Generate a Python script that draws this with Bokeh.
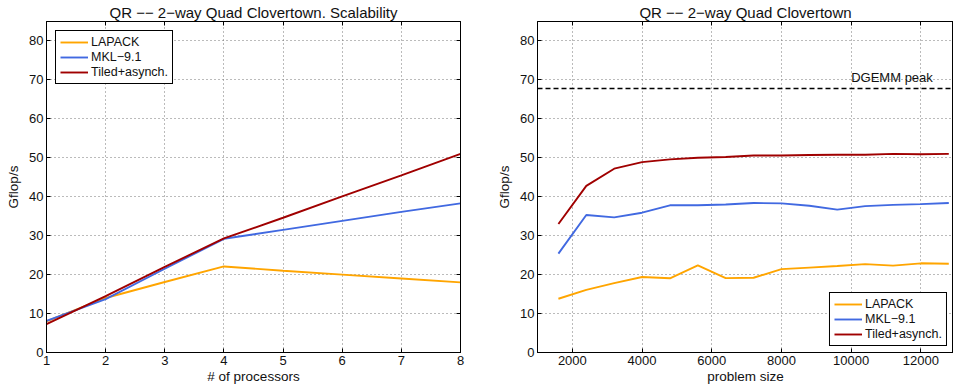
from bokeh.plotting import figure
from bokeh.layouts import row
from bokeh.models import Range1d, FixedTicker, Legend, LegendItem, Span, Label, LinearAxis
from bokeh.embed import file_html
from bokeh.resources import INLINE

# ---- Left chart: scalability ----
procs = [1, 2, 3, 4, 5, 6, 7, 8]
lapack_scal = [8.0, 14.0, 18.1, 22.1, 21.0, 20.0, 19.0, 18.0]
mkl_scal = [8.1, 13.7, 21.5, 29.2, 31.5, 33.8, 36.1, 38.3]
tiled_scal = [7.3, 14.5, 22.0, 29.3, 34.6, 40.1, 45.5, 51.0]

# ---- Right chart: problem size ----
sizes = [1600, 2400, 3200, 4000, 4800, 5600, 6400, 7200, 8000, 8800, 9600, 10400, 11200, 12000, 12800]
lapack_size = [13.8, 16.1, 17.8, 19.4, 19.05, 22.4, 19.1, 19.2, 21.4, 21.8, 22.2, 22.7, 22.3, 22.9, 22.8]
mkl_size = [25.4, 35.3, 34.7, 35.9, 37.8, 37.8, 38.0, 38.4, 38.3, 37.7, 36.7, 37.6, 37.9, 38.1, 38.4]
tiled_size = [33.0, 42.8, 47.2, 48.9, 49.6, 50.0, 50.2, 50.6, 50.6, 50.7, 50.8, 50.8, 51.0, 50.9, 51.0]
dgemm_peak = 67.8

y_ticks = [0, 10, 20, 30, 40, 50, 60, 70, 80]
proc_ticks = [1, 2, 3, 4, 5, 6, 7, 8]
size_ticks = [2000, 4000, 6000, 8000, 10000, 12000]

label_names = ["LAPACK", "MKL\u22129.1", "Tiled+asynch."]
colors = ["#FFA500", "#4169E1", "#A00000"]

FONT = "Liberation Sans"


def tick_style(ax):
    ax.axis_line_color = "black"
    ax.major_tick_line_color = "black"
    ax.major_tick_in = 4
    ax.major_tick_out = 0
    ax.minor_tick_line_color = None


def mirror_axis(p, xticks, side):
    ticks = xticks if side in ("above", "below") else y_ticks
    ax = LinearAxis(ticker=FixedTicker(ticks=ticks))
    tick_style(ax)
    ax.major_label_overrides = {t: "" for t in ticks}
    ax.major_label_standoff = 0
    ax.axis_label = None
    p.add_layout(ax, side)


def style(p, xticks):
    p.title.align = "center"
    p.title.text_font = FONT
    p.title.text_font_size = "15px"
    p.title.text_font_style = "normal"
    p.title.text_color = "#111111"
    p.title.standoff = 2
    p.title.offset = 0
    p.outline_line_color = "black"
    p.outline_line_alpha = 1.0
    p.outline_line_width = 1
    p.xaxis.ticker = FixedTicker(ticks=xticks)
    p.yaxis.ticker = FixedTicker(ticks=y_ticks)
    for ax in (p.xaxis, p.yaxis):
        tick_style(ax)
        ax.major_label_text_font = FONT
        ax.major_label_text_font_size = "13px"
        ax.major_label_text_color = "#111111"
        ax.axis_label_text_font = FONT
        ax.axis_label_text_font_size = "13.5px"
        ax.axis_label_text_font_style = "normal"
        ax.axis_label_text_color = "#111111"
    p.xaxis.major_label_standoff = 3
    p.yaxis.major_label_standoff = 3
    p.xaxis.axis_label_standoff = 1
    p.yaxis.axis_label_standoff = 5
    p.grid.grid_line_color = "#777777"
    p.grid.grid_line_dash = "1 3"
    p.grid.grid_line_width = 1
    p.background_fill_color = "white"
    p.border_fill_color = "white"


def add_lines(p, x, ys):
    items = []
    for y, c, n in zip(ys, colors, label_names):
        r = p.line(x, y, line_color=c, line_width=1.9)
        items.append(LegendItem(label=n, renderers=[r]))
    return items


def make_legend(items, location):
    leg = Legend(items=items, location=location)
    leg.border_line_color = "black"
    leg.border_line_width = 1
    leg.border_line_alpha = 1.0
    leg.label_text_font = FONT
    leg.label_text_font_size = "12.5px"
    leg.label_text_color = "#111111"
    leg.glyph_width = 28
    leg.glyph_height = 14
    leg.label_height = 14
    leg.label_standoff = 3
    leg.spacing = 1
    leg.padding = 4
    leg.margin = 9
    leg.background_fill_alpha = 1.0
    return leg


# Left figure
p1 = figure(width=480, height=392, output_backend="svg", toolbar_location=None,
            title="QR \u2212\u2212 2\u2212way Quad Clovertown. Scalability",
            x_range=Range1d(1, 8), y_range=Range1d(0, 85),
            min_border_left=46, min_border_right=20, min_border_top=0, min_border_bottom=40)
style(p1, proc_ticks)
mirror_axis(p1, proc_ticks, "above")
mirror_axis(p1, proc_ticks, "right")
p1.below[0].axis_label = "# of processors"
p1.left[0].axis_label = "Gflop/s"
items1 = add_lines(p1, procs, [lapack_scal, mkl_scal, tiled_scal])
p1.add_layout(make_legend(items1, "top_left"))

# Right figure
p2 = figure(width=473, height=392, output_backend="svg", toolbar_location=None,
            title="QR \u2212\u2212 2\u2212way Quad Clovertown",
            x_range=Range1d(1000, 12935), y_range=Range1d(0, 85),
            min_border_left=57, min_border_right=0, min_border_top=0, min_border_bottom=40)
style(p2, size_ticks)
mirror_axis(p2, size_ticks, "above")
p2.below[0].axis_label = "problem size"
p2.left[0].axis_label = "Gflop/s"
p2.add_layout(Span(location=dgemm_peak, dimension="width", line_color="black",
                   line_dash="5 3", line_width=1.6))
p2.add_layout(Label(x=10000, y=dgemm_peak, y_offset=3, text="DGEMM peak",
                    text_font=FONT, text_font_size="13px", text_color="#111111",
                    text_baseline="bottom"))
items2 = add_lines(p2, sizes, [lapack_size, mkl_size, tiled_size])
leg2 = make_legend(items2, "bottom_right")
leg2.margin = 6
p2.add_layout(leg2)

layout = row(p1, p2, spacing=0)
open("out.html", "w").write(file_html(layout, INLINE))
